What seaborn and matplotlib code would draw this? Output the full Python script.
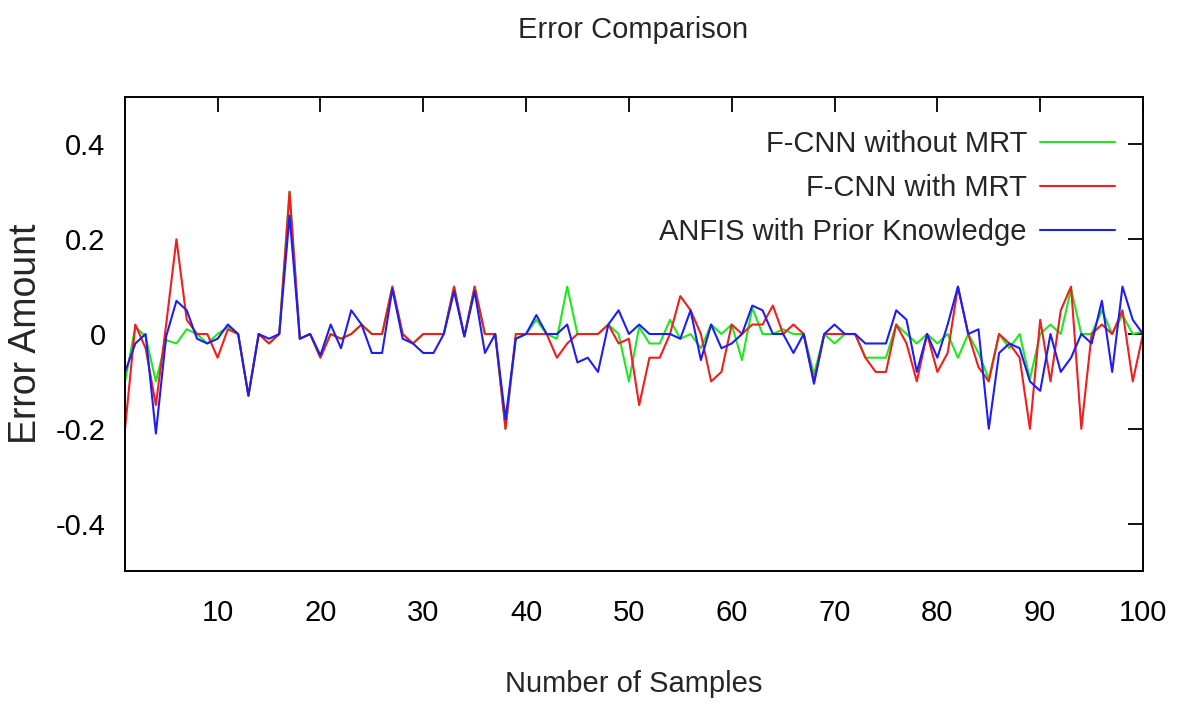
import numpy as np
import pandas as pd
import matplotlib
matplotlib.use("Agg")
import matplotlib.pyplot as plt
import seaborn as sns

samples = list(range(1, 101))

fcnn_without_mrt = [
    -0.10, 0.015, -0.005, -0.10, -0.013, -0.02, 0.01, 0.0, -0.02, 0.0,
    0.015, 0.0, -0.13, 0.0, -0.02, 0.0, 0.30, -0.01, 0.0, -0.05,
    0.0, -0.01, 0.0, 0.02, 0.0, 0.0, 0.10, 0.0, -0.02, 0.0,
    0.0, 0.0, 0.10, -0.005, 0.10, 0.0, 0.0, -0.20, -0.01, 0.0,
    0.03, 0.0, -0.01, 0.10, 0.0, 0.0, 0.0, 0.02, 0.0, -0.10,
    0.015, -0.02, -0.02, 0.03, -0.01, 0.0, -0.03, 0.02, 0.0, 0.02,
    -0.055, 0.055, 0.0, 0.0, 0.01, 0.0, 0.0, -0.085, 0.0, -0.02,
    0.0, 0.0, -0.05, -0.05, -0.05, 0.02, 0.0, -0.02, 0.0, -0.02,
    0.0, -0.05, 0.0, -0.04, -0.095, 0.0, -0.03, 0.0, -0.095, 0.0,
    0.02, 0.0, 0.095, 0.0, 0.0, 0.05, 0.0, 0.04, 0.0, 0.005,
]

fcnn_with_mrt = [
    -0.20, 0.02, -0.03, -0.15, 0.02, 0.20, 0.03, 0.0, 0.0, -0.05,
    0.01, 0.0, -0.13, 0.0, -0.02, 0.0, 0.30, -0.01, 0.0, -0.05,
    0.0, -0.01, 0.0, 0.02, 0.0, 0.0, 0.10, 0.0, -0.02, 0.0,
    0.0, 0.0, 0.10, -0.005, 0.10, 0.0, 0.0, -0.20, 0.0, 0.0,
    0.0, 0.0, -0.05, -0.02, 0.0, 0.0, 0.0, 0.02, -0.02, -0.01,
    -0.15, -0.05, -0.05, 0.0, 0.08, 0.05, 0.0, -0.10, -0.08, 0.02,
    0.0, 0.02, 0.02, 0.06, 0.0, 0.02, 0.0, -0.10, 0.0, 0.0,
    0.0, 0.0, -0.05, -0.08, -0.08, 0.02, -0.02, -0.10, 0.0, -0.08,
    -0.04, 0.10, 0.0, -0.07, -0.10, 0.0, -0.02, -0.05, -0.20, 0.03,
    -0.10, 0.05, 0.10, -0.20, 0.0, 0.02, 0.0, 0.05, -0.10, 0.0,
]

anfis_prior = [
    -0.08, -0.02, 0.0, -0.21, -0.005, 0.07, 0.05, -0.01, -0.02, -0.01,
    0.02, 0.0, -0.13, 0.0, -0.01, 0.0, 0.25, -0.01, 0.0, -0.045,
    0.02, -0.03, 0.05, 0.02, -0.04, -0.04, 0.095, -0.01, -0.02, -0.04,
    -0.04, 0.0, 0.09, -0.005, 0.09, -0.04, 0.0, -0.18, -0.01, 0.0,
    0.04, 0.0, 0.0, 0.02, -0.06, -0.05, -0.08, 0.02, 0.05, 0.0,
    0.02, 0.0, 0.0, 0.0, -0.01, 0.05, -0.055, 0.02, -0.03, -0.02,
    0.0, 0.06, 0.05, 0.0, 0.0, -0.04, 0.0, -0.105, 0.0, 0.02,
    0.0, 0.0, -0.02, -0.02, -0.02, 0.05, 0.03, -0.08, 0.0, -0.05,
    0.02, 0.10, 0.0, 0.01, -0.20, -0.04, -0.02, -0.03, -0.10, -0.12,
    0.0, -0.08, -0.05, 0.0, -0.02, 0.07, -0.08, 0.10, 0.03, 0.0,
]

series_names = ["F-CNN without MRT", "F-CNN with MRT", "ANFIS with Prior Knowledge"]
series_colors = ["#1ee81e", "#f01e1e", "#1e1ef0"]

x_ticks = [10, 20, 30, 40, 50, 60, 70, 80, 90, 100]
y_ticks = [-0.4, -0.2, 0.0, 0.2, 0.4]
y_tick_labels = ["-0.4", "-0.2", "0", "0.2", "0.4"]

df = pd.concat([
    pd.DataFrame({"Sample": samples, "Error": vals, "Series": name})
    for name, vals in zip(series_names, [fcnn_without_mrt, fcnn_with_mrt, anfis_prior])
], ignore_index=True)

sns.set_style("white")
plt.rcParams["font.family"] = ["Liberation Sans", "DejaVu Sans"]

fig = plt.figure(figsize=(11.84, 7.06), dpi=100)
ax = fig.add_axes([0.1056, 0.1912, 0.8598, 0.6714])

sns.lineplot(data=df, x="Sample", y="Error", hue="Series", hue_order=series_names,
             palette=dict(zip(series_names, series_colors)), linewidth=1.5,
             estimator=None, sort=False, ax=ax)

ax.set_xlim(1, 100)
ax.set_ylim(-0.5, 0.5)
ax.set_xticks(x_ticks)
ax.set_xticklabels([str(t) for t in x_ticks])
ax.set_yticks(y_ticks)
ax.set_yticklabels(y_tick_labels)
ax.tick_params(axis="both", direction="in", length=11, width=1.3, labelsize=21,
               top=True, right=True, colors="black")
ax.tick_params(axis="x", pad=20)
ax.tick_params(axis="y", pad=14)
for sp in ax.spines.values():
    sp.set_visible(True)
    sp.set_color("black")
    sp.set_linewidth(1.4)

ax.set_xlabel("Number of Samples", fontsize=21, labelpad=31)
ax.set_ylabel("Error Amount", fontsize=27, labelpad=8)
fig.text(0.535, 0.958, "Error Comparison", ha="center", va="center", fontsize=21)

handles, labels = ax.get_legend_handles_labels()
leg = ax.legend(handles, labels, loc="upper right", bbox_to_anchor=(0.9725, 0.93),
                frameon=False, fontsize=21, markerfirst=False, alignment="right",
                handlelength=2.57, labelspacing=0.55, handletextpad=0.45,
                borderaxespad=0.0, borderpad=0.0)
for t in leg.get_texts():
    t.set_ha("right")
leg._legend_box.align = "right"
for h in leg.get_lines():
    h.set_linewidth(1.5)

fig.savefig("out.png", dpi=100)
